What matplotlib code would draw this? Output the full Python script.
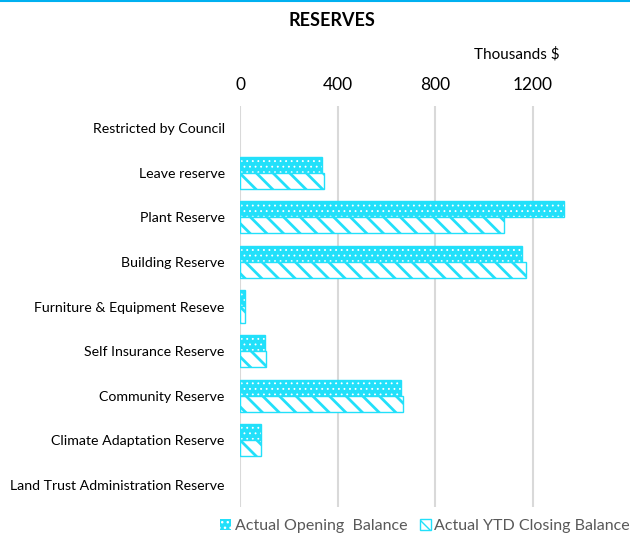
import numpy as np
import matplotlib.pyplot as plt
from matplotlib.patches import Patch
from matplotlib.lines import Line2D

categories = ["Restricted by Council", "Leave reserve", "Plant Reserve", "Building Reserve",
              "Furniture & Equipment Reseve", "Self Insurance Reserve", "Community Reserve",
              "Climate Adaptation Reserve", "Land Trust Administration Reserve"]
opening = [0, 337, 1328, 1155, 19, 103, 659, 86, 0]
closing = [0, 344, 1084, 1174, 22, 106, 670, 88, 0]
ticks = [0, 400, 800, 1200]

cyan = "#22E0FA"
plt.rcParams['font.family'] = ['Lato', 'DejaVu Sans']

fig = plt.figure(figsize=(6.3, 5.38), dpi=100)
ax = fig.add_axes([240 / 630, 1 - 507 / 538, 1 - 240 / 630, (507 - 106) / 538])

y = np.arange(len(categories))
h = 0.36
lw_open = [1 if v else 0 for v in opening]
lw_close = [1 if v else 0 for v in closing]

# opening: cyan fill with small white dots
with plt.rc_context({'hatch.linewidth': 0.6}):
    ax.barh(y - h / 2, opening, height=h, color=cyan, edgecolor="white", hatch="...", linewidth=0)
    dot_handle = Patch(facecolor=cyan, edgecolor="white", hatch="...", linewidth=0)
ax.barh(y - h / 2, opening, height=h, fill=False, edgecolor=cyan, linewidth=lw_open)
# closing: white fill with cyan stripes
with plt.rc_context({'hatch.linewidth': 2.0}):
    ax.barh(y + h / 2, closing, height=h, color="white", edgecolor=cyan, hatch="\\\\", linewidth=lw_close)
    stripe_handle = Patch(facecolor="white", edgecolor=cyan, hatch="\\\\", linewidth=1)

ax.set_ylim(len(categories) - 0.5, -0.5)
ax.set_yticks(y)
ax.set_yticklabels(categories, fontsize=10.2, color="black")
ax.set_xlim(0, 1600)
ax.set_xticks(ticks)
ax.set_xticklabels([str(t) for t in ticks], fontsize=12.5)
ax.xaxis.tick_top()
ax.tick_params(axis="y", length=0, pad=11)
ax.tick_params(axis="x", length=0, pad=9)
ax.grid(axis="x", color="#D9D9D9", linewidth=1.5)
ax.set_axisbelow(True)
for s in ax.spines.values():
    s.set_visible(False)

fig.text(332 / 630, 1 - 20 / 538, "RESERVES", ha="center", va="center", fontsize=13, fontweight="bold")
fig.text(517 / 630, 1 - 54 / 538, "Thousands $", ha="center", va="center", fontsize=11)
fig.add_artist(Line2D([0, 1], [0.999, 0.999], color="#00B0F0", linewidth=1.5))

fig.legend([dot_handle, stripe_handle], ["Actual Opening  Balance", "Actual YTD Closing Balance"],
           loc="center", bbox_to_anchor=(425 / 630, 1 - 526 / 538), ncol=2, frameon=False,
           fontsize=11.5, labelcolor="#595959", handlelength=0.7, handleheight=0.7,
           handletextpad=0.2, columnspacing=0.8)

fig.savefig("out.png", dpi=100)
